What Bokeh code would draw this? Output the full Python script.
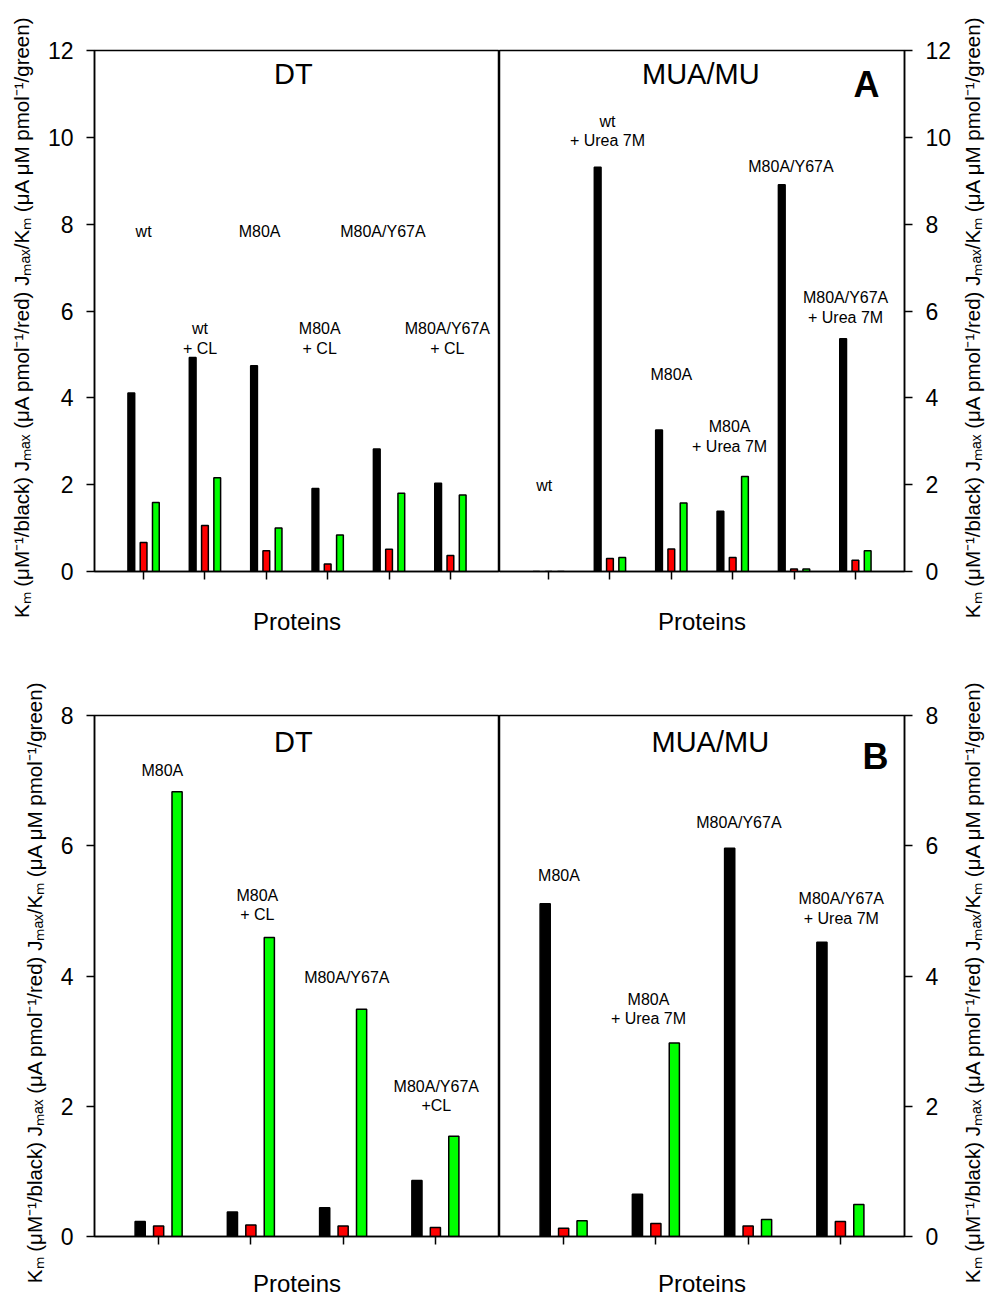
import numpy as np
from bokeh.plotting import figure
from bokeh.layouts import column, row
from bokeh.models import Range1d, FixedTicker, CustomJSTickFormatter
from bokeh.core.properties import value
from bokeh.embed import file_html
from bokeh.resources import INLINE

FONT = "Liberation Sans"
AXIS_LABEL = "Kₘ (μM⁻¹/black)  Jₘₐₓ (μA pmol⁻¹/red)  Jₘₐₓ/Kₘ (μA μM pmol⁻¹/green)"

# ---------------- Panel A data ----------------
a_yticks = [0, 2, 4, 6, 8, 10, 12]

a_dt_proteins = ["wt", "wt\n+ CL", "M80A", "M80A\n+ CL", "M80A/Y67A", "M80A/Y67A\n+ CL"]
a_dt_km = [4.11, 4.93, 4.74, 1.91, 2.82, 2.03]
a_dt_jmax = [0.67, 1.06, 0.48, 0.17, 0.51, 0.37]
a_dt_ratio = [1.59, 2.16, 1.00, 0.84, 1.80, 1.76]
a_dt_label_x = [1.0, 1.92, 2.89, 3.87, 4.9, 5.95]
a_dt_label_y = [7.83, 5.37, 7.83, 5.37, 7.83, 5.37]

a_mu_proteins = ["wt", "wt\n+ Urea 7M", "M80A", "M80A\n+ Urea 7M", "M80A/Y67A", "M80A/Y67A\n+ Urea 7M"]
a_mu_km = [0.0, 9.31, 3.26, 1.39, 8.91, 5.36]
a_mu_jmax = [0.0, 0.30, 0.52, 0.32, 0.06, 0.26]
a_mu_ratio = [0.0, 0.32, 1.58, 2.19, 0.06, 0.48]
a_mu_label_x = [0.93, 1.96, 3.0, 3.95, 4.95, 5.84]
a_mu_label_y = [1.99, 10.15, 4.54, 3.11, 9.32, 6.08]

# ---------------- Panel B data ----------------
b_yticks = [0, 2, 4, 6, 8]

b_dt_proteins = ["M80A", "M80A\n+ CL", "M80A/Y67A", "M80A/Y67A\n+CL"]
b_dt_km = [0.23, 0.375, 0.44, 0.86]
b_dt_jmax = [0.16, 0.175, 0.16, 0.14]
b_dt_ratio = [6.83, 4.59, 3.49, 1.54]
b_dt_label_x = [1.04, 2.07, 3.04, 4.01]
b_dt_label_y = [7.16, 5.09, 3.98, 2.16]

b_mu_proteins = ["M80A", "M80A\n+ Urea 7M", "M80A/Y67A", "M80A/Y67A\n+ Urea 7M"]
b_mu_km = [5.11, 0.65, 5.96, 4.52]
b_mu_jmax = [0.125, 0.20, 0.16, 0.23]
b_mu_ratio = [0.24, 2.97, 0.26, 0.49]
b_mu_label_x = [0.95, 1.92, 2.9, 4.01]
b_mu_label_y = [5.54, 3.49, 6.36, 5.04]


def style_axis_label(ax, standoff):
    ax.axis_label = AXIS_LABEL
    ax.axis_label_text_font = FONT
    ax.axis_label_text_font_size = "20.5px"
    ax.axis_label_text_font_style = "normal"
    ax.axis_label_text_color = "black"
    ax.axis_label_standoff = standoff


def make_half(side, pad, ymax, yticks, km, jmax, ratio, labels, lab_x, lab_y,
              title, title_x, title_y, border_top, border_bottom, proteins_standoff,
              letter=None, letter_x=None, letter_y=None):
    n = len(km)
    p = figure(frame_width=405, frame_height=521,
               x_range=Range1d(1 - pad, n + pad), y_range=Range1d(0, ymax),
               y_axis_location=side, output_backend="svg", toolbar_location=None,
               min_border_top=border_top, min_border_bottom=border_bottom,
               min_border_left=94 if side == "left" else 0,
               min_border_right=0 if side == "left" else 52)
    p.grid.visible = False
    p.outline_line_color = "black"
    p.outline_line_width = 1.5
    p.background_fill_color = "white"
    p.border_fill_color = "white"

    cats = np.arange(1, n + 1)
    p.vbar(x=cats - 0.2, top=km, width=0.11, fill_color="black", line_color="black", line_width=1.5)
    p.vbar(x=cats, top=jmax, width=0.11, fill_color="#ff0000", line_color="black", line_width=1.5)
    p.vbar(x=cats + 0.2, top=ratio, width=0.11, fill_color="#00ff00", line_color="black", line_width=1.5)

    p.text(x=lab_x, y=lab_y, text=labels, text_align="center", text_baseline="middle",
           text_font=value(FONT), text_font_size="16px", text_color="black", text_line_height=1.15)
    p.text(x=[title_x], y=[title_y], text=[title], text_align="center", text_baseline="middle",
           text_font=value(FONT), text_font_size="29px", text_color="black")
    if letter:
        p.text(x=[letter_x], y=[letter_y], text=[letter], text_align="center", text_baseline="middle",
               text_font=value(FONT), text_font_size="36px", text_font_style="bold", text_color="black")

    xa = p.xaxis[0]
    xa.ticker = FixedTicker(ticks=[float(c) for c in cats])
    xa.formatter = CustomJSTickFormatter(code="return ''")
    xa.major_label_text_font_size = "1px"
    xa.major_label_standoff = 0
    xa.major_tick_out = 8
    xa.major_tick_in = 0
    xa.minor_tick_line_color = None
    xa.axis_line_width = 1.5
    xa.major_tick_line_width = 1.5
    xa.axis_label = "Proteins"
    xa.axis_label_text_font = FONT
    xa.axis_label_text_font_size = "24px"
    xa.axis_label_text_font_style = "normal"
    xa.axis_label_text_color = "black"
    xa.axis_label_standoff = proteins_standoff

    ya = p.yaxis[0]
    ya.ticker = FixedTicker(ticks=yticks)
    ya.major_tick_out = 8
    ya.major_tick_in = 0
    ya.minor_tick_line_color = None
    ya.axis_line_width = 1.5
    ya.major_tick_line_width = 1.5
    ya.major_label_text_font = FONT
    ya.major_label_text_font_size = "23px"
    ya.major_label_text_color = "black"
    ya.major_label_standoff = 13
    if side == "left":
        style_axis_label(ya, 12)
    return p


def make_right_title(ymax, border_top, border_bottom):
    # narrow strip carrying the right-hand axis title, reading bottom-to-top
    p = figure(frame_width=1, frame_height=521, x_range=Range1d(0, 1), y_range=Range1d(0, ymax),
               x_axis_location=None, y_axis_location="left",
               output_backend="svg", toolbar_location=None,
               min_border_top=border_top, min_border_bottom=border_bottom,
               min_border_left=37, min_border_right=0)
    p.grid.visible = False
    p.outline_line_color = None
    p.border_fill_color = "white"
    p.background_fill_color = "white"
    ya = p.yaxis[0]
    ya.ticker = FixedTicker(ticks=[])
    ya.major_tick_out = 0
    ya.major_tick_in = 0
    ya.minor_tick_line_color = None
    ya.axis_line_color = None
    ya.major_label_text_font_size = "1px"
    ya.major_label_standoff = 0
    style_axis_label(ya, 10)
    return p


a_left = make_half("left", 0.8, 12, a_yticks, a_dt_km, a_dt_jmax, a_dt_ratio,
                   a_dt_proteins, a_dt_label_x, a_dt_label_y, "DT", 3.44, 11.47,
                   50, 89, 28)
a_right = make_half("right", 0.8, 12, a_yticks, a_mu_km, a_mu_jmax, a_mu_ratio,
                    a_mu_proteins, a_mu_label_x, a_mu_label_y, "MUA/MU", 3.48, 11.47,
                    50, 89, 28, letter="A", letter_x=6.18, letter_y=11.22)
a_title = make_right_title(12, 50, 89)
b_left = make_half("left", 0.695, 8, b_yticks, b_dt_km, b_dt_jmax, b_dt_ratio,
                   b_dt_proteins, b_dt_label_x, b_dt_label_y, "DT", 2.46, 7.6,
                   55, 62, 25)
b_right = make_half("right", 0.695, 8, b_yticks, b_mu_km, b_mu_jmax, b_mu_ratio,
                    b_mu_proteins, b_mu_label_x, b_mu_label_y, "MUA/MU", 2.59, 7.6,
                    55, 62, 25, letter="B", letter_x=4.38, letter_y=7.37)
b_title = make_right_title(8, 55, 62)

layout = column(row(a_left, a_right, a_title, spacing=0),
                row(b_left, b_right, b_title, spacing=0), spacing=0)
open("out.html", "w").write(file_html(layout, INLINE))
